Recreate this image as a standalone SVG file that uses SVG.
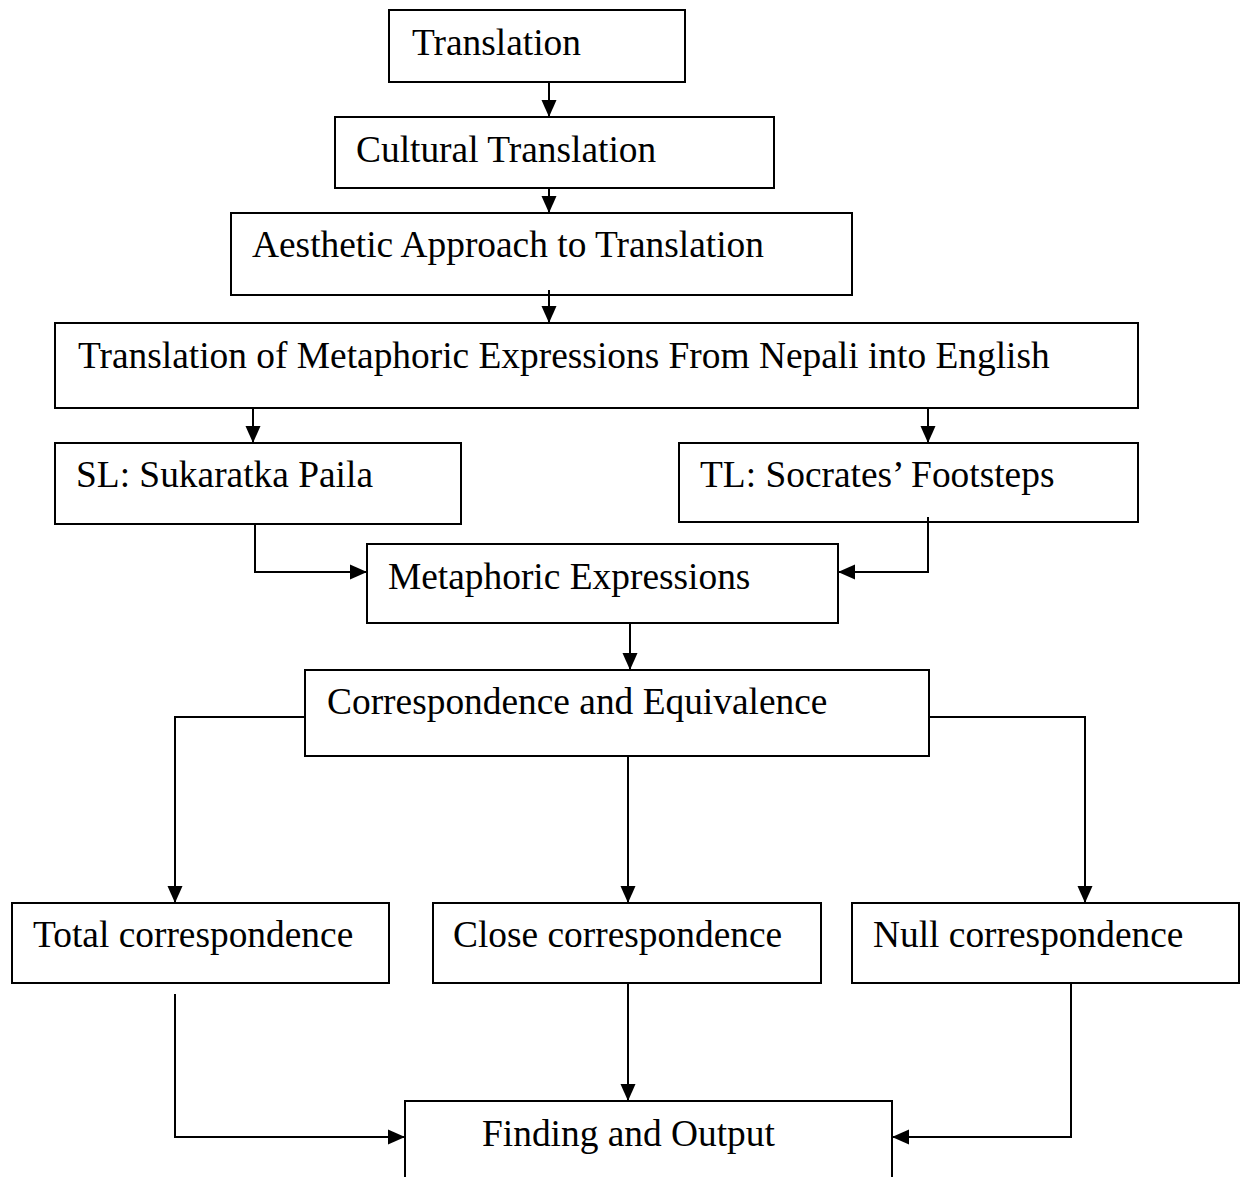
<svg xmlns="http://www.w3.org/2000/svg" width="1248" height="1177" viewBox="0 0 1248 1177">
<style>
.box{fill:#fff;stroke:#000;stroke-width:2}
.lbl{font-family:"Liberation Serif","Times New Roman",serif;font-size:37.4px;fill:#000}
.con{fill:none;stroke:#000;stroke-width:2}
</style>
<defs>
<marker id="ah" markerUnits="userSpaceOnUse" markerWidth="18" markerHeight="16" refX="17" refY="8" orient="auto" viewBox="0 0 18 16">
<path d="M0,0.5 L17,8 L0,15.5 Z" fill="#000"/>
</marker>
</defs>
<rect width="1248" height="1177" fill="#fff"/>
<g id="n-translation"><rect class="box" x="389" y="10" width="296" height="72"/><text class="lbl" x="412" y="55">Translation</text></g>
<g id="n-cultural"><rect class="box" x="335" y="117" width="439" height="71"/><text class="lbl" x="356" y="162">Cultural Translation</text></g>
<g id="n-aesthetic"><rect class="box" x="231" y="213" width="621" height="82"/><text class="lbl" x="252" y="257">Aesthetic Approach to Translation</text></g>
<g id="n-metaphoric-translation"><rect class="box" x="55" y="323" width="1083" height="85"/><text class="lbl" x="78" y="368">Translation of Metaphoric Expressions From Nepali into English</text></g>
<g id="n-sl"><rect class="box" x="55" y="443" width="406" height="81"/><text class="lbl" x="76" y="487">SL: Sukaratka Paila</text></g>
<g id="n-tl"><rect class="box" x="679" y="443" width="459" height="79"/><text class="lbl" x="700" y="487">TL: Socrates’ Footsteps</text></g>
<g id="n-metaphoric"><rect class="box" x="367" y="544" width="471" height="79"/><text class="lbl" x="388" y="589">Metaphoric Expressions</text></g>
<g id="n-correspondence"><rect class="box" x="305" y="670" width="624" height="86"/><text class="lbl" x="327" y="714">Correspondence and Equivalence</text></g>
<g id="n-total"><rect class="box" x="12" y="903" width="377" height="80"/><text class="lbl" x="33" y="947">Total correspondence</text></g>
<g id="n-close"><rect class="box" x="433" y="903" width="388" height="80"/><text class="lbl" x="453" y="947">Close correspondence</text></g>
<g id="n-null"><rect class="box" x="852" y="903" width="387" height="80"/><text class="lbl" x="873" y="947">Null correspondence</text></g>
<g id="n-finding"><path class="box" d="M405,1185 L405,1101 L892,1101 L892,1185"/><text class="lbl" x="482" y="1146">Finding and Output</text></g>
<g id="connectors">
<path class="con" d="M549,82 L549,117" marker-end="url(#ah)"/>
<path class="con" d="M549,188 L549,213" marker-end="url(#ah)"/>
<path class="con" d="M549,290 L549,323" marker-end="url(#ah)"/>
<path class="con" d="M253,408 L253,443" marker-end="url(#ah)"/>
<path class="con" d="M928,408 L928,443" marker-end="url(#ah)"/>
<path class="con" d="M255,524 L255,572 L367,572" marker-end="url(#ah)"/>
<path class="con" d="M928,517 L928,572 L838,572" marker-end="url(#ah)"/>
<path class="con" d="M630,623 L630,670" marker-end="url(#ah)"/>
<path class="con" d="M305,717 L175,717 L175,903" marker-end="url(#ah)"/>
<path class="con" d="M628,756 L628,903" marker-end="url(#ah)"/>
<path class="con" d="M929,717 L1085,717 L1085,903" marker-end="url(#ah)"/>
<path class="con" d="M175,994 L175,1137 L405,1137" marker-end="url(#ah)"/>
<path class="con" d="M628,983 L628,1101" marker-end="url(#ah)"/>
<path class="con" d="M1071,983 L1071,1137 L892,1137" marker-end="url(#ah)"/>
</g>
</svg>
